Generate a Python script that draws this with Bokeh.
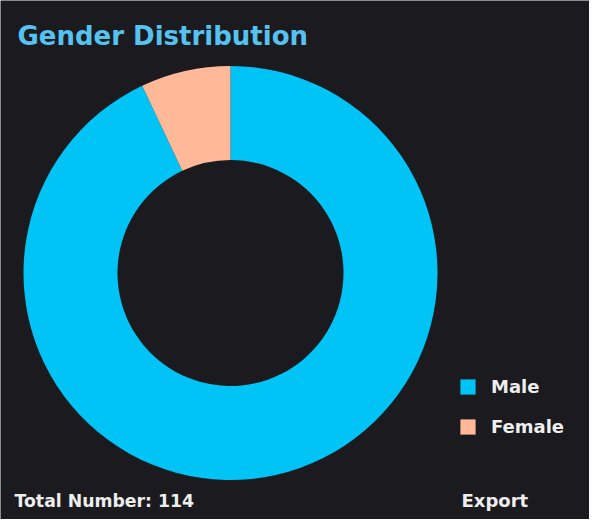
import numpy as np
from bokeh.plotting import figure
from bokeh.models import ColumnDataSource, Label, Legend, LegendItem, Range1d
from bokeh.embed import file_html
from bokeh.resources import INLINE

# ---- data ----
categories = ["Male", "Female"]
counts = [106, 8]
colors = ["#00c4f6", "#ffb898"]
title_text = "Gender Distribution"
total_label = "Total Number: " + str(sum(counts))
export_label = "Export"

W, H = 589, 519
BG = "#1b1b1f"
FONT = "DejaVu Sans"

total = sum(counts)
angles = [c / total * 2 * np.pi for c in counts]
start = [np.pi / 2 - sum(angles[:i]) for i in range(len(angles))]
end = [s - a for s, a in zip(start, angles)]

src = ColumnDataSource(dict(cat=categories, count=counts, color=colors,
                            start=start, end=end))

p = figure(width=W, height=H, output_backend="svg", toolbar_location=None,
           x_range=Range1d(0, W), y_range=Range1d(0, H), min_border=0,
           background_fill_color=BG, border_fill_color=BG, outline_line_color=None)
p.axis.visible = False
p.grid.visible = False

cx, cy = 230, H - 272.5
r = p.annular_wedge(x=cx, y=cy, inner_radius=113, outer_radius=207,
                    inner_radius_units="screen", outer_radius_units="screen",
                    start_angle="start", end_angle="end", direction="clock",
                    fill_color="color", line_color=None, source=src)

legend = Legend(items=[LegendItem(label=categories[i], renderers=[r], index=i)
                       for i in range(len(categories))],
                location=(458, 82), background_fill_alpha=0, border_line_color=None,
                label_text_color="#eeeeee", label_text_font=FONT, label_text_font_size="18px",
                label_text_font_style="bold",
                glyph_width=19, glyph_height=19, label_standoff=14, spacing=19,
                label_height=20, padding=0, margin=0)
p.add_layout(legend, "center")

p.add_layout(Label(x=17, y=H - 35, x_units="screen", y_units="screen", text=title_text,
                   text_color="#56c2f0", text_font=FONT, text_font_size="26px",
                   text_font_style="bold", text_baseline="alphabetic"))
p.add_layout(Label(x=14, y=H - 500, x_units="screen", y_units="screen", text=total_label,
                   text_color="#eeeeee", text_font=FONT, text_font_size="17.3px",
                   text_font_style="bold", text_baseline="alphabetic"))
p.add_layout(Label(x=461, y=H - 500, x_units="screen", y_units="screen", text=export_label,
                   text_color="#eeeeee", text_font=FONT, text_font_size="18px",
                   text_font_style="bold", text_baseline="alphabetic"))

open("out.html", "w").write(file_html(p, INLINE))
